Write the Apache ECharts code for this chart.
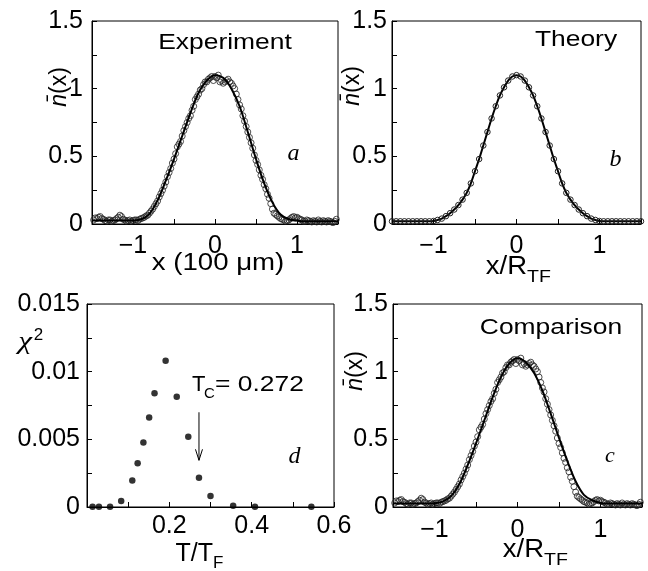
<!DOCTYPE html>
<html><head><meta charset="utf-8">
<script src="https://cdn.jsdelivr.net/npm/echarts@6.0.0/dist/echarts.min.js"></script>
<style>html,body{margin:0;padding:0;background:#fff}#c{width:648px;height:571px}</style>
</head><body><div id="c"></div>
<script>
// ---- experimental density profile (open circles, panels a and c) ----
const expX = [-1.48,-1.44,-1.40,-1.36,-1.32,-1.28,-1.24,-1.20,-1.16,-1.12,-1.08,-1.04,-1.00,-0.96,-0.92,-0.88,-0.84,-0.80,-0.76,-0.72,-0.68,-0.64,-0.60,-0.56,-0.52,-0.48,-0.44,-0.40,-0.36,-0.32,-0.28,-0.24,-0.20,-0.16,-0.12,-0.08,-0.04,0.00,0.04,0.08,0.12,0.16,0.20,0.24,0.28,0.32,0.36,0.40,0.44,0.48,0.52,0.56,0.60,0.64,0.68,0.72,0.76,0.80,0.84,0.88,0.92,0.96,1.00,1.04,1.08,1.12,1.16,1.20,1.24,1.28,1.32,1.36,1.40,1.44,1.48];
const expY = [0.03,0.04,0.055,0.035,0.02,0.03,0.025,0.04,0.065,0.035,
  0.02,0.03,0.025,0.03,0.035,0.045,0.06,0.08,0.11,0.15,
  0.20,0.25,0.31,0.38,0.45,0.52,0.59,0.65,0.72,0.78,
  0.84,0.92,0.96,1.00,1.05,1.07,1.09,1.09,1.10,1.06,
  1.05,1.07,1.04,1.00,0.92,0.85,0.76,0.68,0.60,0.51,
  0.44,0.36,0.29,0.22,0.15,0.08,0.06,0.04,0.03,0.025,
  0.04,0.055,0.05,0.035,0.02,0.03,0.02,0.025,0.015,0.02,
  0.025,0.015,0.02,0.01,0.035];
const expX2 = [-1.46,-1.42,-1.38,-1.34,-1.30,-1.26,-1.22,-1.18,-1.14,-1.10,-1.06,-1.02,-0.98,-0.94,-0.90,-0.86,-0.82,-0.78,-0.74,-0.70,-0.66,-0.62,-0.58,-0.54,-0.50,-0.46,-0.42,-0.38,-0.34,-0.30,-0.26,-0.22,-0.18,-0.14,-0.10,-0.06,-0.02,0.02,0.06,0.10,0.14,0.18,0.22,0.26,0.30,0.34,0.38,0.42,0.46,0.50,0.54,0.58,0.62,0.66,0.70,0.74,0.78,0.82,0.86,0.90,0.94,0.98,1.02,1.06,1.10,1.14,1.18,1.22,1.26,1.30,1.34,1.38,1.42,1.46];
const expY2 = [0.045,0.05,0.04,0.025,0.03,0.02,0.03,0.05,0.055,0.03,
  0.025,0.02,0.03,0.025,0.04,0.05,0.065,0.095,0.13,0.17,
  0.225,0.28,0.35,0.41,0.48,0.57,0.61,0.69,0.75,0.80,
  0.87,0.94,0.99,1.03,1.05,1.08,1.06,
  1.08,1.05,1.04,1.06,1.05,1.02,0.96,0.88,0.80,0.72,
  0.64,0.56,0.47,0.40,0.33,0.26,0.19,0.11,0.07,0.05,
  0.035,0.02,0.03,0.05,0.045,0.04,0.03,0.02,0.025,0.015,
  0.02,0.03,0.015,0.02,0.025,0.015,0.02];
// ---- fit curve, panel a ----
const fitAX = [-1.5,-1.4,-1.3,-1.2,-1.1,-1.0,-0.9,-0.8,-0.7,-0.6,-0.5,-0.4,-0.3,-0.2,-0.1,0,0.1,0.2,0.3,0.4,0.5,0.6,0.7,0.8,0.9,1.0,1.1,1.2,1.3,1.4,1.5];
const fitAY = [0.025,0.025,0.025,0.025,0.025,0.026,0.035,0.075,0.175,0.32,0.48,0.65,0.82,0.97,1.06,1.10,1.08,1.00,0.87,0.68,0.48,0.30,0.16,0.07,0.035,0.025,0.02,0.02,0.02,0.02,0.02];
// ---- theory profile, panel b (curve and circles) ----
const theoryBX = [-1.50,-1.45,-1.40,-1.35,-1.30,-1.25,-1.20,-1.15,-1.10,-1.05,-1.00,-0.95,-0.90,-0.85,-0.80,-0.75,-0.70,-0.65,-0.60,-0.55,-0.50,-0.45,-0.40,-0.35,-0.30,-0.25,-0.20,-0.15,-0.10,-0.05,0.00,0.05,0.10,0.15,0.20,0.25,0.30,0.35,0.40,0.45,0.50,0.55,0.60,0.65,0.70,0.75,0.80,0.85,0.90,0.95,1.00,1.05,1.10,1.15,1.20,1.25,1.30,1.35,1.40,1.45,1.50];
const theoryBY = [0.02,0.02,0.02,0.02,0.02,0.02,0.02,0.02,0.02,0.02,
  0.022,0.03,0.04,0.058,0.08,0.107,0.14,0.18,0.23,0.30,0.39,0.48,0.58,0.68,0.78,0.87,0.95,1.01,1.06,1.09,
  1.10,
  1.09,1.06,1.01,0.95,0.87,0.78,0.68,0.58,0.48,0.39,0.30,0.23,0.18,0.14,0.107,0.08,0.058,0.04,0.03,0.022,
  0.02,0.02,0.02,0.02,0.02,0.02,0.02,0.02,0.02,0.02];
// ---- theory curve, panel c ----
const theoryCX = [-1.5,-1.4,-1.3,-1.2,-1.1,-1.0,-0.9,-0.8,-0.7,-0.6,-0.5,-0.4,-0.3,-0.2,-0.1,0,0.1,0.2,0.3,0.4,0.5,0.6,0.7,0.8,0.9,1.0,1.1,1.2,1.3,1.4,1.5];
const theoryCY = [0.025,0.025,0.025,0.025,0.025,0.027,0.04,0.08,0.17,0.31,0.47,0.64,0.81,0.96,1.06,1.10,1.07,0.99,0.86,0.69,0.51,0.34,0.19,0.09,0.05,0.03,0.025,0.025,0.025,0.025,0.025];
// ---- chi^2 vs T/T_F, panel d ----
const chiX = [0.0135,0.029,0.056,0.083,0.110,0.123,0.137,0.151,0.164,0.191,0.218,0.246,0.272,0.300,0.355,0.408,0.545];
const chiY = [0.00002,0.00002,0.00002,0.00044,0.00195,0.00323,0.00477,0.00662,0.0084,0.0108,0.00815,0.00519,0.00217,0.00081,0.0001,0.00002,0.00002];
const Tc = 0.272;

const pairs = (xs, ys) => xs.map((x, i) => [x, ys[i]]);
const expData = pairs(expX, expY).concat(pairs(expX2, expY2));
const SANS = '"Liberation Sans", Arial, sans-serif';
const SERIF = '"Liberation Serif", "Times New Roman", serif';

function profXFmt(v) {
  if (Math.abs(v - Math.round(v)) > 1e-9) return '';
  const r = Math.round(v);
  return r < 0 ? '\u2212' + Math.abs(r) : String(r);
}
function profYFmt(v) {
  const k = Math.round(v / 0.25);
  if (k % 2 !== 0) return '';
  return String(k / 4);
}
function chiYFmt(v) {
  const k = Math.round(v / 0.0025);
  if (k % 2 !== 0) return '';
  return String(parseFloat((k * 0.0025).toFixed(4)));
}
function chiXFmt(v) {
  const k = Math.round(v / 0.1);
  if (k === 0 || k % 2 !== 0) return '';
  return (k / 10).toFixed(1);
}

function axis(gi, min, max, interval, fmt, margin) {
  return {
    type: 'value', gridIndex: gi, min, max, interval,
    axisLine: { show: true, onZero: false, lineStyle: { color: '#000', width: 1 } },
    axisTick: { show: true, inside: true, length: 5, lineStyle: { color: '#000', width: 1 } },
    axisLabel: { show: true, formatter: fmt, margin, color: '#000', fontSize: 25, fontFamily: SANS },
    splitLine: { show: false }
  };
}
const gridBase = { show: true, borderColor: '#000', borderWidth: 1, backgroundColor: 'transparent', containLabel: false, outerBoundsMode: 'none' };

const ring = { color: 'rgba(0,0,0,0)', borderColor: '#222', borderWidth: 1 };

const option = {
  animation: false,
  backgroundColor: '#fff',
  grid: [
    Object.assign({ left: 92, top: 21, width: 246, height: 203 }, gridBase),
    Object.assign({ left: 392, top: 21, width: 249, height: 203 }, gridBase),
    Object.assign({ left: 87, top: 304, width: 247, height: 203 }, gridBase),
    Object.assign({ left: 393, top: 304, width: 249, height: 203 }, gridBase)
  ],
  xAxis: [
    axis(0, -1.5, 1.5, 0.5, profXFmt, 10),
    axis(1, -1.5, 1.5, 0.5, profXFmt, 10),
    axis(2, 0, 0.6, 0.1, chiXFmt, 7),
    axis(3, -1.5, 1.5, 0.5, profXFmt, 11)
  ],
  yAxis: [
    axis(0, 0, 1.5, 0.25, profYFmt, 9),
    axis(1, 0, 1.5, 0.25, profYFmt, 5),
    axis(2, 0, 0.015, 0.0025, chiYFmt, 7),
    axis(3, 0, 1.5, 0.25, profYFmt, 5)
  ],
  series: [
    { type: 'scatter', xAxisIndex: 0, yAxisIndex: 0, data: expData, symbol: 'circle', symbolSize: 6, itemStyle: ring, silent: true },
    { type: 'line', xAxisIndex: 0, yAxisIndex: 0, data: pairs(fitAX, fitAY), showSymbol: false, smooth: 0.35, lineStyle: { color: '#000', width: 2 }, silent: true },
    { type: 'line', xAxisIndex: 1, yAxisIndex: 1, data: pairs(theoryBX, theoryBY), showSymbol: true, symbol: 'circle', symbolSize: 5.5, smooth: 0.3, itemStyle: ring, lineStyle: { color: '#000', width: 2 }, silent: true },
    { type: 'scatter', xAxisIndex: 2, yAxisIndex: 2, data: pairs(chiX, chiY), symbol: 'circle', symbolSize: 6.5, itemStyle: { color: '#000' }, silent: true },
    { type: 'scatter', xAxisIndex: 3, yAxisIndex: 3, data: expData, symbol: 'circle', symbolSize: 6, itemStyle: ring, silent: true },
    { type: 'line', xAxisIndex: 3, yAxisIndex: 3, data: pairs(theoryCX, theoryCY), showSymbol: false, smooth: 0.35, lineStyle: { color: '#000', width: 2 }, silent: true }
  ]
};

const chart = echarts.init(document.getElementById('c'), null, { renderer: 'canvas' });
chart.setOption(option);

function T(x, y, text, font, align, sx) {
  return { type: 'text', x, y, z: 100, scaleX: sx || 1,
    style: { text, font, fill: '#000', textAlign: align || 'center', textVerticalAlign: 'middle' } };
}
const nbar = (x, y) => ({ type: 'text', x, y, z: 100, rotation: Math.PI / 2,
  style: { text: '{i|n\u0304}(x)', font: '23px ' + SANS, fill: '#000', textAlign: 'center', textVerticalAlign: 'middle',
    rich: { i: { font: 'italic 23px ' + SANS, fill: '#000' } } } });

const arrTop = chart.convertToPixel({ gridIndex: 2 }, [Tc, 0.0070]);
const arrTip = chart.convertToPixel({ gridIndex: 2 }, [Tc, 0.00345]);

const graphics = [
  T(225, 43, 'Experiment', '22px ' + SANS, 'center', 1.2),
  T(576, 40, 'Theory', '22px ' + SANS, 'center', 1.2),
  T(551, 328, 'Comparison', '22px ' + SANS, 'center', 1.2),
  T(218, 264, 'x (100 \u03bcm)', '23px ' + SANS, 'center', 1.2),
  T(527, 267, 'x/R', '25px ' + SANS, 'right', 1.1),
  T(527, 277, 'TF', '17px ' + SANS, 'left', 1.15),
  T(544, 550, 'x/R', '25px ' + SANS, 'right', 1.1),
  T(544, 560, 'TF', '17px ' + SANS, 'left', 1.15),
  T(213, 554, 'T/T', '25px ' + SANS, 'right', 1.0),
  T(213, 563, 'F', '17px ' + SANS, 'left', 1.0),
  T(192, 385, 'T', '22px ' + SANS, 'left', 1.0),
  T(204, 394, 'C', '15px ' + SANS, 'left', 1.0),
  T(215, 385, '= 0.272', '22px ' + SANS, 'left', 1.2),
  T(25, 342, '\u03c7', 'italic 26px ' + SERIF, 'center', 1.2),
  T(38.5, 335, '2', '17px ' + SANS, 'center', 1.0),
  T(293.5, 154, 'a', 'italic 24px ' + SERIF, 'center', 1.0),
  T(615.5, 160, 'b', 'italic 24px ' + SERIF, 'center', 1.0),
  T(610, 456, 'c', 'italic 22px ' + SERIF, 'center', 1.0),
  T(294.5, 457, 'd', 'italic 24px ' + SERIF, 'center', 1.0),
  nbar(60, 87),
  nbar(353, 86),
  nbar(356, 371),
  { type: 'polyline', z: 100, shape: { points: [[arrTop[0], arrTop[1]], [arrTip[0], arrTip[1]]] }, style: { stroke: '#000', lineWidth: 1, fill: null } },
  { type: 'polyline', z: 100, shape: { points: [[arrTip[0] - 3.5, arrTip[1] - 11], [arrTip[0], arrTip[1]], [arrTip[0] + 3.5, arrTip[1] - 11]] }, style: { stroke: '#000', lineWidth: 1, fill: null } }
];
chart.setOption({ graphic: graphics });
</script></body></html>
